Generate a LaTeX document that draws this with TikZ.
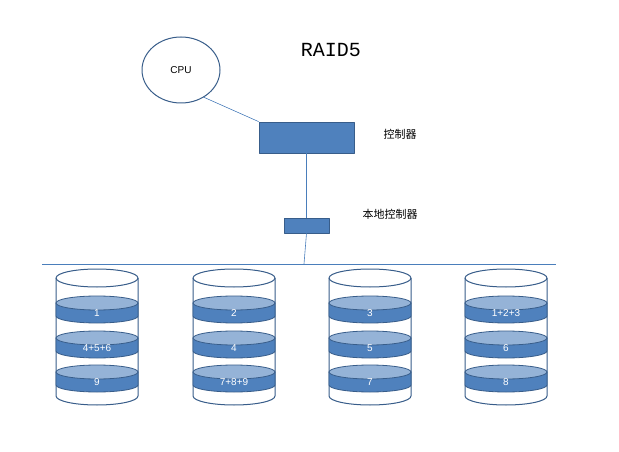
\documentclass[tikz,border=0pt]{standalone}
\usepackage{fontspec}
\usetikzlibrary{shapes.geometric}
\newfontfamily\cjk{Noto Sans CJK SC}
\newfontfamily\lab{Liberation Sans}
\newfontfamily\ttl{Liberation Mono}
\definecolor{bandDark}{HTML}{4F81BD}
\definecolor{bandLight}{HTML}{95B3D7}
\definecolor{edgeBlue}{HTML}{385D8A}
\definecolor{wireBlue}{HTML}{4A7EBB}
\tikzset{
  ctrlbox/.style={draw=edgeBlue,fill=bandDark,line width=0.8pt},
  wire/.style={draw=wireBlue,line width=0.6pt},
  shell/.style={draw=edgeBlue,line width=1pt},
  cjklabel/.style={font=\cjk\fontsize{11}{13}\selectfont,inner sep=0pt},
  bandtext/.style={text=white,font=\lab\fontsize{10}{12}\selectfont,inner sep=0pt}
}
% one band of a disk: #1 x centre, #2 y of top ellipse, #3 text
\newcommand{\diskband}[3]{%
  \filldraw[draw=edgeBlue,fill=bandDark,line width=0.8pt]
    (#1-41,#2)--(#1-41,#2-13) arc[start angle=180,end angle=360,x radius=41,y radius=7]--(#1+41,#2)--cycle;
  \filldraw[draw=edgeBlue,fill=bandLight,line width=0.8pt] (#1,#2) ellipse[x radius=41,y radius=7];
  \node[bandtext] at (#1,#2-10) {#3};
}
\begin{document}
\begin{tikzpicture}[x=1pt,y=1pt,line join=round]
\useasboundingbox (0,0) rectangle (619,451);
\node[font=\ttl\fontsize{20}{24}\selectfont] (title) at (331,401) {RAID5};
\node[draw=edgeBlue,line width=1pt,ellipse,minimum width=78pt,minimum height=66pt,
  font=\lab\fontsize{10}{12}\selectfont,inner sep=0pt] (cpu) at (181,381) {CPU};
\node[ctrlbox,minimum width=95pt,minimum height=31pt,inner sep=0pt] (ctrl) at (306.5,313.5) {};
\node[cjklabel] (ctrllab) at (400,317) {控制器};
\node[ctrlbox,minimum width=45pt,minimum height=15pt,inner sep=0pt] (local) at (306.5,225.5) {};
\node[cjklabel] (locallab) at (390,237) {本地控制器};
\coordinate (busL) at (42,187);
\coordinate (busR) at (556,187);
\coordinate (busM) at (304,187);
\draw[wire] (cpu.-50) -- (ctrl.north west);
\draw[wire] (ctrl.south) -- (local.north);
\draw[wire] (local.south) -- (busM);
\draw[wire] (busL) -- (busR);
% disks
\foreach \x/\a/\b/\c in {97/1/4+5+6/9, 234/2/4/7+8+9, 370/3/5/7, 506/1+2+3/6/8}{
  \fill[white] (\x-41,173)--(\x-41,55) arc[start angle=180,end angle=360,x radius=41,y radius=9]--(\x+41,173)--cycle;
  \draw[shell] (\x-41,173)--(\x-41,55) arc[start angle=180,end angle=360,x radius=41,y radius=9]--(\x+41,173);
  \draw[shell] (\x,173) ellipse[x radius=41,y radius=9];
  \diskband{\x}{148}{\a}
  \diskband{\x}{113}{\b}
  \diskband{\x}{79}{\c}
}
\end{tikzpicture}
\end{document}
